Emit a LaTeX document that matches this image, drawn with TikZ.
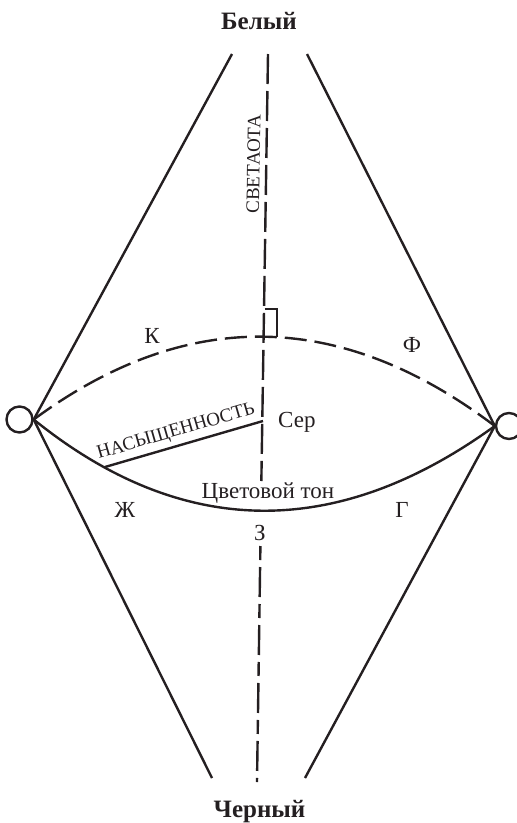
\documentclass[tikz,border=0pt]{standalone}
\usepackage{fontspec}
\setmainfont{Liberation Serif}
\definecolor{ink}{rgb}{0.14,0.12,0.13}
\begin{document}
\begin{tikzpicture}[x=1pt,y=-1pt,
  ln/.style={line width=2.4pt, draw=ink},
  axisdash/.style={dash pattern=on 30pt off 7pt},
  arcdash/.style={dash pattern=on 22pt off 8pt},
  lbl/.style={font=\fontsize{23}{26}\selectfont, anchor=base, inner sep=0, text=ink},
  small/.style={font=\fontsize{19}{21}\selectfont, inner sep=0, text=ink},
  ttl/.style={font=\fontsize{25}{28}\selectfont\bfseries, anchor=base, inner sep=0, text=ink},
  ring/.style={circle, draw=ink, minimum size=26pt, inner sep=0, line width=2.4pt}]
\useasboundingbox (0,0) rectangle (517,823);
% titles
\node[ttl] (white) at (259,29) {Белый};
\node[ttl] (black) at (259.5,817) {Черный};
% circles
\node[ring] (lc) at (19.5,419.5) {};
\node[ring] (rc) at (509,426) {};
% end points
\coordinate (lt) at (232,54);
\coordinate (lb) at (212,778);
\coordinate (rt) at (307,54);
\coordinate (rb) at (305,778);
\coordinate (at) at (268,54);
\coordinate (am1) at (261.35,481);
\coordinate (am2) at (260.4,546);
\coordinate (ab) at (257,782);
% cone sides
\draw[ln] (lt) -- (lc.east) -- (lb);
\draw[ln] (rt) -- (rc.west) -- (rb);
% axis (hidden behind the labels of the hue circle)
\draw[ln, axisdash] (at) -- (am1);
\draw[ln, dash pattern=on 14pt off 7pt on 30pt off 7pt] (am2) -- (ab);
% arcs
\draw[ln, arcdash] (lc.east) .. controls (186.7,306.7) and (341,309.3) .. (rc.west);
\draw[ln] (lc.east) .. controls (181.3,538.7) and (335.7,541.3) .. (rc.west);
% right angle marker
\coordinate (ra1) at (264.5,309);
\coordinate (ra2) at (277,309);
\coordinate (ra3) at (277,337);
\draw[ln, line width=2.1pt] (ra1) -- (ra2) -- (ra3);
% saturation
\coordinate (s1) at (105,467);
\coordinate (s2) at (263,421);
\draw[ln] (s1) -- (s2);
% labels
\node[small, rotate=89] (light) at (253.5,164) {СВЕТАОТА};
\node[small, rotate=16.2] (sat) at (176,432) {НАСЫЩЕННОСТЬ};
\node[lbl] (k) at (152,343) {К};
\node[lbl] (f) at (412,352) {Ф};
\node[lbl, anchor=base west] (ser) at (278,427) {Сер};
\node[lbl] (hue) at (268,498) {Цветовой тон};
\node[lbl] (zh) at (125,517) {Ж};
\node[lbl] (g) at (402,517) {Г};
\node[lbl] (z) at (260,540) {\symbol{"0417}};
\end{tikzpicture}
\end{document}
